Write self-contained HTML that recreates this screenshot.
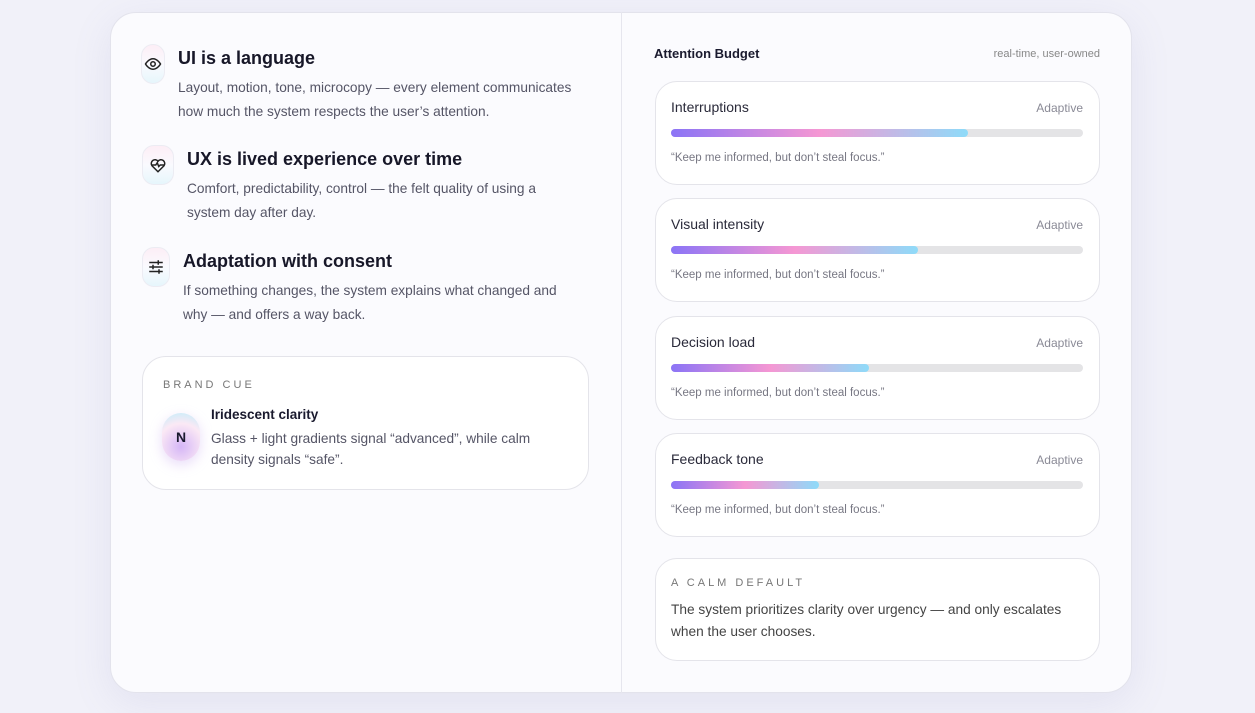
<!DOCTYPE html>
<html><head><meta charset="utf-8"><style>
*{box-sizing:border-box;margin:0;padding:0}
body{width:1255px;height:713px;background:#f1f1f9;font-family:"Liberation Sans",sans-serif;position:relative;overflow:hidden;color:#1a1a2e}
.abs{position:absolute}
.card{left:110px;top:12px;width:1022px;height:681px;background:#fbfbfe;border:1px solid #e3e3ec;border-radius:26px;box-shadow:0 10px 40px rgba(120,120,180,.12)}
.div{left:621px;top:12px;width:1px;height:681px;background:#e6e6ee}
.pill{width:24px;height:40px;border-radius:12px;border:1px solid #ececf3;background:linear-gradient(180deg,#fdeef6,#fafafe 50%,#e6f6fc);display:flex;align-items:center;justify-content:center}
.h{font-size:18px;font-weight:bold;color:#171728}
.p{font-size:13.7px;line-height:24px;color:#555566;white-space:nowrap}
.rc{left:655px;width:445px;background:#fff;border:1px solid #e4e4ea;border-radius:22px}
.lab{font-size:14px;color:#2a2a3a}
.ad{font-size:12px;color:#8a8a96}
.q{font-size:11.5px;color:#777783}
.track{left:671px;width:412px;height:8px;border-radius:4px;background:#e4e4e6}
.fill{height:8px;border-radius:4px;background:linear-gradient(90deg,#8b74f6,#f597d3 50%,#8edbf9);position:absolute;left:0;top:0}
</style></head><body>
<div class="abs card"></div>
<div class="abs div"></div>

<div class="abs pill" style="left:141px;top:44px"><svg width="18" height="18" viewBox="0 0 24 24" fill="none" stroke="#222" stroke-width="2"><path d="M2 12s4-7 10-7 10 7 10 7-4 7-10 7S2 12 2 12z"/><circle cx="12" cy="12" r="3"/></svg></div>
<div class="abs h" style="left:178px;top:48px">UI is a language</div>
<div class="abs p" style="left:178px;top:76px">Layout, motion, tone, microcopy — every element communicates<br>how much the system respects the user’s attention.</div>

<div class="abs pill" style="left:142px;top:145px;width:32px"><svg width="18" height="18" viewBox="0 0 24 24" fill="none" stroke="#222" stroke-width="2"><path d="M12 21l-8-8a5 5 0 0 1 8-6 5 5 0 0 1 8 6z"/><path d="M4 12h5l2-3 2 5 2-2h5"/></svg></div>
<div class="abs h" style="left:187px;top:149px">UX is lived experience over time</div>
<div class="abs p" style="left:187px;top:177px">Comfort, predictability, control — the felt quality of using a<br>system day after day.</div>

<div class="abs pill" style="left:142px;top:247px;width:28px"><svg width="18" height="18" viewBox="0 0 24 24" fill="none" stroke="#222" stroke-width="2"><path d="M3 6h18M3 12h18M3 18h18"/><path d="M15 3v6M8 9v6M16 15v6"/></svg></div>
<div class="abs h" style="left:183px;top:251px">Adaptation with consent</div>
<div class="abs p" style="left:183px;top:279px">If something changes, the system explains what changed and<br>why — and offers a way back.</div>

<div class="abs" style="left:142px;top:356px;width:447px;height:134px;background:#fff;border:1px solid #e4e4ea;border-radius:24px"></div>
<div class="abs" style="left:163px;top:379px;font-size:11px;letter-spacing:3px;color:#777">BRAND CUE</div>
<div class="abs" style="left:162px;top:413px;width:38px;height:48px;border-radius:19px;background:radial-gradient(circle at 50% 70%,#d5b6f6,#fbe9f5 60%,#bfeefa);display:flex;align-items:center;justify-content:center;font-weight:bold;font-size:14px;box-shadow:0 4px 12px rgba(200,170,240,.4)">N</div>
<div class="abs" style="left:211px;top:407px;font-size:13.5px;font-weight:bold;color:#1a1a2e">Iridescent clarity</div>
<div class="abs p" style="left:211px;top:428px;line-height:21px">Glass + light gradients signal “advanced”, while calm<br>density signals “safe”.</div>

<div class="abs" style="left:654px;top:46px;font-size:13px;font-weight:bold">Attention Budget</div>
<div class="abs" style="left:960px;top:48px;width:140px;text-align:right;font-size:11px;color:#888">real-time, user-owned</div>

<div id="rows"></div>

<div class="abs rc" style="top:558px;height:103px"></div>
<div class="abs" style="left:671px;top:577px;font-size:11px;letter-spacing:3px;color:#777">A CALM DEFAULT</div>
<div class="abs p" style="left:671px;top:599px;line-height:22px;color:#444">The system prioritizes clarity over urgency — and only escalates<br>when the user chooses.</div>

<script>
const labels=["Interruptions","Visual intensity","Decision load","Feedback tone"];
const values=[72,60,48,36];
const tops=[81,198,316,433];
const root=document.getElementById('rows');
labels.forEach((l,i)=>{
  const t=tops[i];
  const c=document.createElement('div');c.className='abs rc';c.style.top=t+'px';c.style.height='104px';
  
  
  root.appendChild(c);
  const a=document.createElement('div');a.className='abs lab';a.style.left='671px';a.style.top=(t+18)+'px';a.textContent=l;
  
  
  root.appendChild(a);
  const b=document.createElement('div');b.className='abs ad';b.style.left='1000px';b.style.width='83px';b.style.textAlign='right';b.style.top=(t+20)+'px';b.textContent='Adaptive';
  
  
  root.appendChild(b);
  const tr=document.createElement('div');tr.className='abs track';tr.style.top=(t+48)+'px';
  
  
  const f=document.createElement('div');f.className='fill';f.style.width=(values[i]/100*412)+'px';
  
  
  tr.appendChild(f);root.appendChild(tr);
  const q=document.createElement('div');q.className='abs q';q.style.left='671px';q.style.top=(t+71)+'px';q.textContent='“Keep me informed, but don’t steal focus.”';
  
  
  root.appendChild(q);
});
</script>
</body></html>
